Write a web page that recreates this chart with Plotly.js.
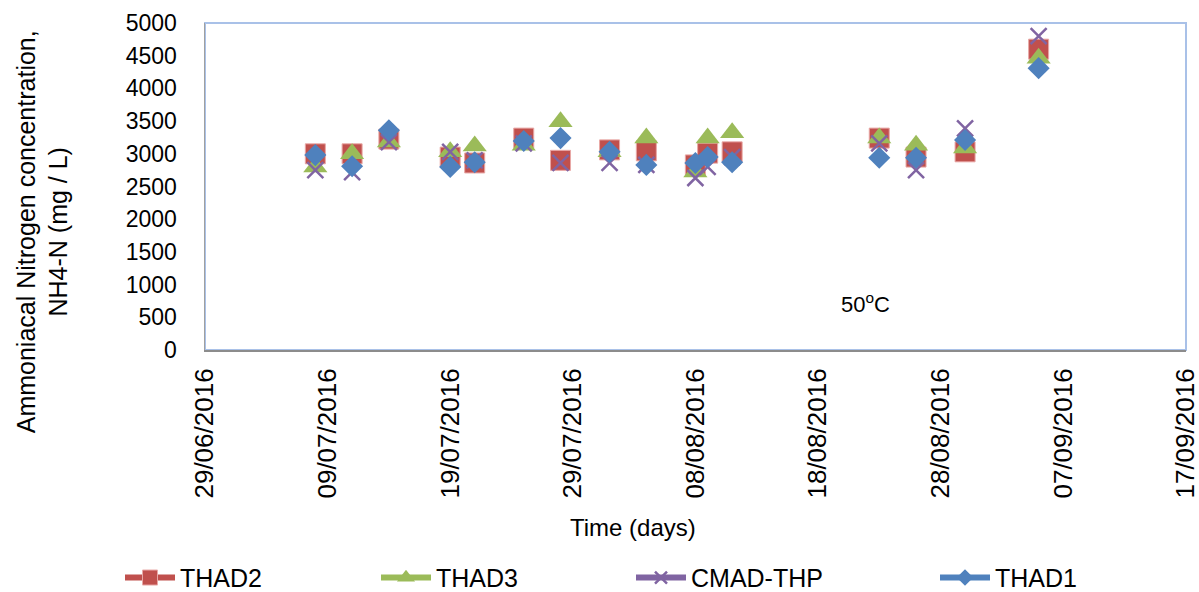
<!DOCTYPE html>
<html>
<head>
<meta charset="utf-8">
<script src="https://cdn.plot.ly/plotly-3.0.1.min.js"></script>
<style>html,body{margin:0;padding:0;background:#fff;}#chart{width:1199px;height:592px;}</style>
</head>
<body>
<div id="chart"></div>
<script>
const dates = ['2016-07-08','2016-07-11','2016-07-14','2016-07-19','2016-07-21','2016-07-25','2016-07-28','2016-08-01','2016-08-04','2016-08-08','2016-08-09','2016-08-11','2016-08-23','2016-08-26','2016-08-30','2016-09-05'];
const thad2 = [3000, 3000, 3225, 2950, 2860, 3240, 2900, 3060, 3045, 2830, 3010, 3030, 3240, 2950, 3030, 4600];
const thad3 = [2800, 3000, 3180, 3030, 3120, 3130, 3490, 3030, 3240, 2720, 3240, 3320, 3240, 3130, 3090, 4460];
const cmad  = [2750, 2720, 3180, 3030, 2900, 3160, 2860, 2860, 2830, 2630, 2800, 2950, 3160, 2750, 3390, 4800];
const thad1 = [2980, 2810, 3360, 2800, 2870, 3195, 3240, 3030, 2830, 2860, 2950, 2870, 2940, 2940, 3210, 4310];
const seriesNames = ['THAD2','THAD3','CMAD-THP','THAD1'];
const colors = ['#C0504D','#9BBB59','#8064A2','#4F81BD'];

const font = 'Liberation Sans, Arial, sans-serif';
const mk = [
  {symbol:'square', size:20, color:colors[0], line:{color:'#E8A8A6', width:1}},
  {symbol:'triangle-up', size:21, color:colors[1]},
  {symbol:'x-thin-open', size:16, color:colors[2], line:{color:colors[2], width:2.5}},
  {symbol:'diamond', size:17, color:colors[3]}
];
const ys = [thad2, thad3, cmad, thad1];
const legendIds = ['legend','legend2','legend3','legend4'];
const legendLeft = [120, 376, 631, 935];
const traces = [];
for (let i = 0; i < 4; i++) {
  traces.push({x: dates, y: ys[i], type:'scatter', mode:'markers', name: seriesNames[i],
    marker: mk[i], showlegend:false, hoverinfo:'x+y+name'});
}
for (let i = 0; i < 4; i++) {
  traces.push({x:[null], y:[null], type:'scatter', mode:'lines+markers', name: seriesNames[i], legend: legendIds[i],
    line:{color:colors[i], width:6}, marker: Object.assign({}, mk[i], {size: mk[i].size*0.75}), showlegend:true});
}

const layout = {
  width:1199, height:592,
  margin:{l:205, r:13, t:23, b:242},
  paper_bgcolor:'#fff', plot_bgcolor:'#fff',
  font:{family:font, color:'#000', size:22},
  showlegend:true,
  xaxis:{type:'date', range:['2016-06-29','2016-09-17 00:30'], tick0:'2016-06-29', dtick:864000000,
    tickformat:'%d/%m/%Y', tickangle:-90, tickfont:{size:26, family:font}, showgrid:false, zeroline:false,
    showline:true, linecolor:'#8C8C8C', linewidth:2, ticks:'', ticklabelstandoff:6, ticklabeloverflow:'allow'},
  yaxis:{range:[0,5000], dtick:500, tickfont:{size:23, family:font}, showgrid:false, zeroline:false,
    showline:true, linecolor:'#A0A0A0', linewidth:1.5, ticks:'', ticklabelstandoff:22},
  shapes:[{type:'rect', xref:'paper', yref:'paper', x0:0, x1:1, y0:0, y1:1, line:{color:'#A9C1E8', width:2}, layer:'below'}],
  annotations:[
    {text:'Ammoniacal Nitrogen concentration,<br>NH4-N (mg / L)', xref:'paper', yref:'paper', x:0, y:0.36,
      xshift:-163, textangle:-90, showarrow:false, font:{size:25, family:font}, xanchor:'center', yanchor:'middle'},
    {text:'Time (days)', xref:'paper', yref:'paper', x:0.436, y:-0.544, showarrow:false, font:{size:24, family:font},
      xanchor:'center', yanchor:'middle'},
    {text:'50<sup>o</sup>C', xref:'paper', yref:'paper', x:0.673, y:0.144, showarrow:false, font:{size:22, family:font},
      xanchor:'center', yanchor:'middle'}
  ]
};
for (let i = 0; i < 4; i++) {
  layout[legendIds[i]] = {orientation:'h', xref:'container', yref:'container', x: legendLeft[i]/1199, y:0.024,
    yanchor:'middle', xanchor:'left', itemwidth:50, font:{size:25, family:font}, bgcolor:'rgba(0,0,0,0)'};
}
Plotly.newPlot('chart', traces, layout, {displayModeBar:false, staticPlot:true});
</script>
</body>
</html>
